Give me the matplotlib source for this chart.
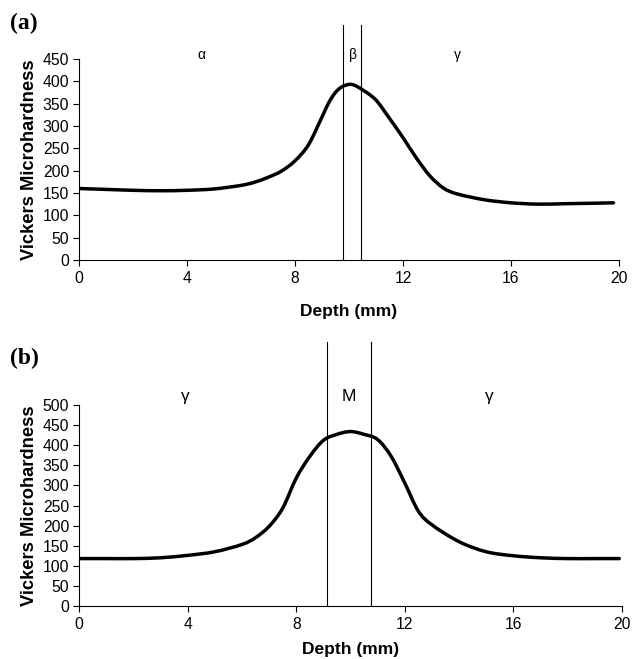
import matplotlib
matplotlib.use("Agg")
import matplotlib.pyplot as plt
from matplotlib.path import Path
from matplotlib.patches import PathPatch

plt.rcParams['font.family'] = ['Liberation Sans', 'DejaVu Sans']

# Panel (a)
depth_a = [0, 1, 2, 3, 4, 5, 6, 6.5, 7, 7.5, 8, 8.5, 9, 9.25, 9.5, 9.75, 10.1,
           10.5, 11, 11.5, 12, 12.5, 13, 13.5, 14, 15, 16, 17, 18, 19, 19.8]
hv_a = [160, 158, 156, 155, 156, 159, 167, 174, 185, 199, 222, 258, 320, 352, 375,
        388, 393, 381, 358, 317, 274, 228, 188, 161, 148, 135, 128, 125, 126, 127, 128]
lines_a = [9.78, 10.46]
phases_a = [("α", 4.55), ("β", 10.15), ("γ", 14.0)]

# Panel (b)
depth_b = [0, 1, 2, 3, 4, 5, 6, 6.5, 7, 7.5, 8, 8.5, 9, 9.5, 10, 10.5, 11, 11.5,
           12, 12.5, 13, 14, 15, 16, 17, 18, 19, 19.9]
hv_b = [118, 118, 118, 120, 126, 135, 153, 170, 198, 243, 318, 372, 412, 427, 434,
        427, 414, 372, 306, 236, 202, 160, 135, 125, 120, 118, 118, 118]
lines_b = [9.14, 10.76]
phases_b = [("γ", 3.9), ("M", 9.95), ("γ", 15.1)]

xticks = [0, 4, 8, 12, 16, 20]

fig = plt.figure(figsize=(6.33, 6.59), dpi=100)
ax_a = fig.add_axes([0.1248, 0.6055, 0.853, 0.305])
ax_b = fig.add_axes([0.1248, 0.0804, 0.8578, 0.305])


def smooth_line(ax, xs, ys):
    # Excel-style smoothed line: Bezier segments through the read points
    n = len(xs)
    verts = [(xs[0], ys[0])]
    codes = [Path.MOVETO]
    for i in range(n - 1):
        x0, y0 = (xs[i - 1], ys[i - 1]) if i > 0 else (xs[i], ys[i])
        x1, y1 = xs[i], ys[i]
        x2, y2 = xs[i + 1], ys[i + 1]
        x3, y3 = (xs[i + 2], ys[i + 2]) if i + 2 < n else (x2, y2)
        c1 = (x1 + (x2 - x0) / 6.0, y1 + (y2 - y0) / 6.0)
        c2 = (x2 - (x3 - x1) / 6.0, y2 - (y3 - y1) / 6.0)
        verts += [c1, c2, (x2, y2)]
        codes += [Path.CURVE4] * 3
    ax.add_patch(PathPatch(Path(verts, codes), fill=False, edgecolor='black',
                           lw=2.5, capstyle='round', joinstyle='round'))


def style(ax, ymax, ystep, xpad):
    ax.set_xlim(0, 20)
    ax.set_ylim(0, ymax)
    ax.set_xticks(xticks)
    ax.set_yticks(range(0, ymax + 1, ystep))
    for s in ['top', 'right']:
        ax.spines[s].set_visible(False)
    for s in ['left', 'bottom']:
        ax.spines[s].set_linewidth(0.8)
    ax.tick_params(direction='out', length=4, width=0.8, labelsize=11.3, pad=3)
    ax.tick_params(axis='x', pad=4)
    ax.set_xlabel("Depth (mm)", fontsize=12.5, fontweight='bold', labelpad=xpad)
    ax.set_ylabel("Vickers Microhardness", fontsize=13.2, fontweight='bold', labelpad=3)


style(ax_a, 450, 50, 13)
smooth_line(ax_a, depth_a, hv_a)
for xv in lines_a:
    ax_a.axvline(xv, ymin=0, ymax=1.169, color='black', lw=0.8, clip_on=False)
for lab, xv in phases_a:
    ax_a.text(xv, 458, lab, ha='center', va='center', fontsize=10)
fig.text(0.016, 0.964, "(a)", family='Liberation Serif', fontweight='bold', fontsize=17, va='center')

style(ax_b, 500, 50, 7)
smooth_line(ax_b, depth_b, hv_b)
for xv in lines_b:
    ax_b.axvline(xv, ymin=0, ymax=1.313, color='black', lw=0.8, clip_on=False)
for lab, xv in phases_b:
    ax_b.text(xv, 520, lab, ha='center', va='center', fontsize=12.5)
fig.text(0.016, 0.456, "(b)", family='Liberation Serif', fontweight='bold', fontsize=17, va='center')

fig.savefig("out.png", dpi=100)
